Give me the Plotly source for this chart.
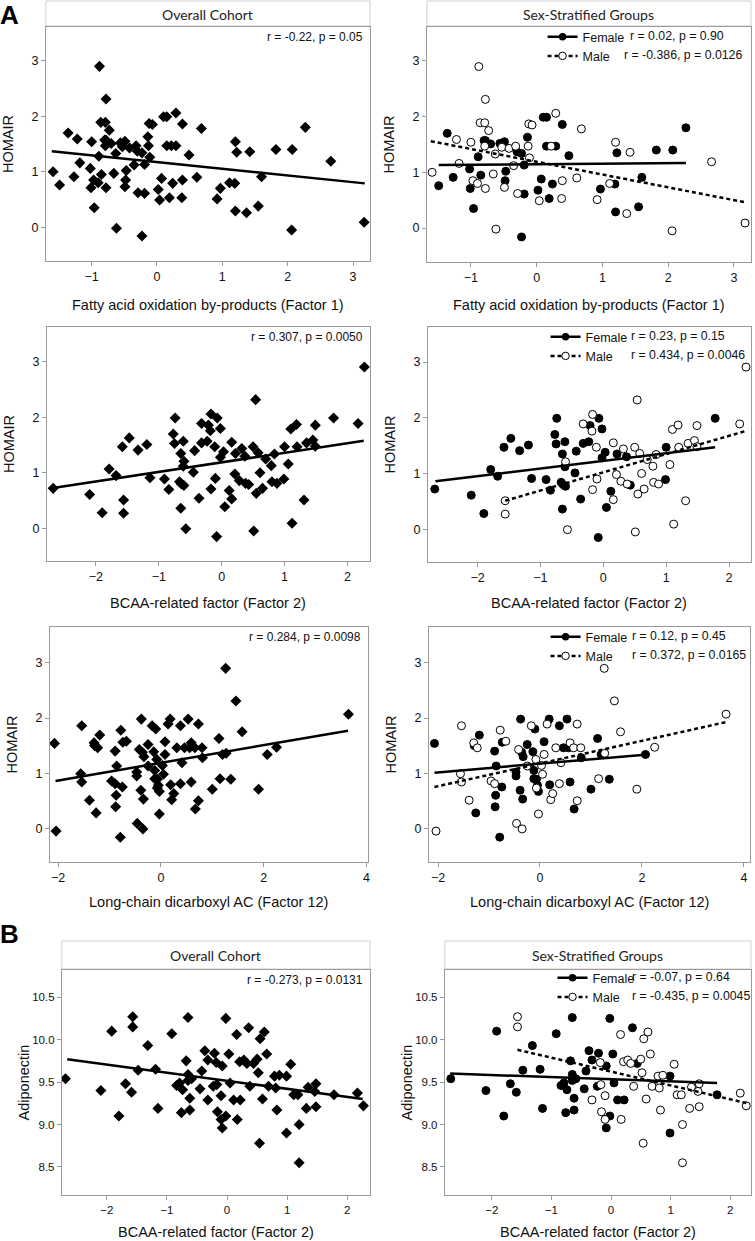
import plotly.graph_objects as go

W, H = 755, 1241

# ---------------- DATA ----------------
# Row 1: Fatty acid oxidation by-products (Factor 1) vs HOMAIR
r1_female_x = [-1.49,-1.36,-1.27,-1.02,-1.01,-0.96,-0.89,-0.85,-0.80,-0.78,-0.70,-0.56,-0.49,-0.47,-0.48,-0.30,-0.23,-0.19,-0.19,-0.23,-0.14,0.02,0.07,0.10,0.15,0.15,0.19,0.24,0.29,0.39,0.49,0.97,1.19,1.22,1.20,1.55,1.60,1.82,2.07,2.27]
r1_female_y = [0.76,1.70,0.91,1.06,0.71,0.35,1.28,0.95,1.57,1.57,1.51,1.52,1.55,1.02,0.85,1.37,1.34,1.13,0.61,-0.16,1.63,0.68,0.88,1.99,1.99,1.47,0.53,0.79,1.47,1.86,1.30,0.70,0.79,1.35,0.29,0.38,0.91,1.40,1.40,1.80]
r1_male_x = [-1.59,-1.22,-1.18,-1.00,-0.97,-0.90,-0.88,-0.86,-0.79,-0.78,-0.79,-0.78,-0.73,-0.63,-0.62,-0.66,-0.49,-0.53,-0.42,-0.35,-0.32,-0.29,-0.13,-0.12,-0.07,-0.11,0.04,0.22,0.39,0.38,0.61,0.68,0.29,0.92,1.11,1.20,1.37,1.42,2.06,2.66,3.17]
r1_male_y = [1.00,1.59,1.16,1.54,0.85,0.80,2.90,1.89,1.89,2.31,1.47,0.71,1.75,1.33,-0.02,0.97,0.73,1.45,1.43,1.12,1.47,0.62,1.47,1.87,1.85,1.26,0.49,1.47,0.85,0.53,0.90,1.78,2.06,0.51,0.80,1.54,0.26,1.36,-0.05,1.19,0.09]

# Row 2: BCAA-related factor (Factor 2) vs HOMAIR
r2_female_x = [-2.68,-2.10,-1.90,-1.79,-1.68,-1.58,-1.47,-1.33,-1.19,-1.14,-0.91,-0.84,-0.77,-0.75,-0.74,-0.67,-0.65,-0.65,-0.64,-0.61,-0.60,-0.61,-0.45,-0.43,-0.36,-0.32,-0.23,-0.21,-0.08,-0.07,-0.02,-0.02,0.03,0.05,0.12,0.22,0.37,0.43,1.00,0.99,1.78]
r2_female_y = [0.72,0.61,0.28,1.07,0.95,1.47,1.63,1.41,1.51,0.91,0.89,0.70,1.70,1.53,1.99,0.84,1.35,0.36,0.80,1.57,0.77,1.12,1.01,1.40,0.54,1.54,1.57,1.86,-0.15,1.99,1.80,1.28,1.38,0.39,0.68,1.35,1.30,0.79,1.47,0.89,1.99]
r2_male_x = [-1.56,-1.56,-0.60,-0.57,-0.32,-0.17,-0.18,-0.17,-0.11,-0.10,0.16,0.16,0.21,0.28,0.32,0.38,0.50,0.51,0.54,0.55,0.58,0.61,0.65,0.70,0.79,0.80,0.84,0.88,1.06,1.10,1.12,1.19,1.20,1.31,1.35,1.45,1.49,1.49,2.17,2.27]
r2_male_y = [0.51,0.27,1.21,-0.01,1.89,2.06,1.76,0.71,1.47,0.90,1.55,0.53,0.98,0.86,1.44,0.81,1.47,-0.05,2.32,0.63,1.36,1.00,0.72,1.25,1.13,0.84,1.34,0.81,1.16,1.79,0.09,1.87,1.47,0.51,1.54,1.59,1.86,1.48,1.89,2.91]

# Row 3: Long-chain dicarboxyl AC (Factor 12) vs HOMAIR
r3_female_x = [-2.07,-1.26,-1.29,-1.19,-0.89,-0.86,-0.87,-0.88,-0.75,-0.79,-0.74,-0.47,-0.47,-0.38,-0.39,-0.36,-0.33,-0.34,-0.25,-0.14,-0.10,-0.12,-0.12,-0.07,-0.05,-0.03,0.08,0.18,0.19,0.38,0.46,0.53,0.56,0.59,0.67,0.81,1.00,1.13,1.20,1.36,2.07]
r3_female_y = [1.54,0.28,1.50,1.69,1.40,1.13,0.60,0.39,0.75,-0.16,1.56,1.02,0.95,1.98,0.69,1.38,1.30,0.53,1.52,1.39,1.80,1.05,0.90,0.89,0.78,0.67,1.57,1.98,0.79,1.86,1.46,1.98,1.46,0.84,0.35,1.28,0.71,1.63,1.34,0.89,1.34]
r3_male_x = [-2.04,-1.54,-1.56,-1.54,-1.39,-1.30,-1.23,-0.96,-0.89,-0.78,-0.67,-0.46,-0.35,-0.42,-0.25,-0.17,-0.08,-0.07,-0.03,0.05,0.08,0.14,0.21,0.25,0.31,0.38,0.41,0.59,0.66,0.73,0.73,0.80,1.15,1.27,1.26,1.46,1.58,1.90,2.25,3.65,0.03]
r3_male_y = [-0.05,1.86,0.99,0.84,0.51,1.55,1.46,0.86,0.81,1.78,1.58,0.09,-0.01,1.43,1.13,1.86,1.25,0.73,0.26,0.98,1.34,1.89,0.52,0.63,1.46,0.81,1.19,1.55,1.46,0.50,1.89,1.46,0.90,1.36,2.90,2.31,1.75,0.71,1.47,2.07,1.14]

# Panel B: BCAA-related factor (Factor 2) vs Adiponectin
b_female_x = [-2.69,-2.10,-1.92,-1.80,-1.69,-1.59,-1.48,-1.32,-1.19,-1.15,-0.92,-0.84,-0.79,-0.76,-0.74,-0.68,-0.65,-0.65,-0.65,-0.59,-0.62,-0.62,-0.45,-0.42,-0.37,-0.32,-0.23,-0.21,-0.08,-0.08,-0.02,-0.02,0.03,0.05,0.11,0.22,0.36,0.44,0.99,0.99,1.78]
b_female_y = [9.54,9.40,10.10,9.10,9.48,9.38,9.64,9.93,9.65,9.19,10.07,9.46,9.49,9.14,9.41,9.75,10.26,9.59,9.52,9.54,9.31,9.17,9.42,9.63,9.87,9.76,9.45,9.84,9.69,8.96,10.25,9.10,9.83,9.49,9.29,9.29,10.14,9.72,9.57,8.90,9.35]
b_male_x = [-1.57,-1.57,-0.32,-0.18,-0.17,-0.16,-0.10,-0.10,0.16,0.17,0.21,0.28,0.33,0.38,0.50,0.52,0.54,0.55,0.59,0.62,0.66,0.69,0.79,0.81,0.83,0.87,1.06,1.11,1.18,1.20,1.20,1.32,1.35,1.48,1.48,1.46,2.17,2.27]
b_male_y = [10.27,10.15,9.29,9.73,9.47,9.15,9.34,9.06,10.06,9.06,9.74,9.76,9.72,9.45,9.77,9.61,8.78,10.01,9.30,10.09,9.83,9.45,9.57,9.43,9.17,9.58,9.71,9.35,9.35,8.55,9.00,9.19,9.44,9.21,9.48,9.39,9.37,9.22]

# Regression lines (end points)
fit_overall_x = [[-1.61, 3.18], [-2.71, 2.26], [-2.05, 3.64], [-2.66, 2.26]]
fit_overall_y = [[1.37, 0.79], [0.72, 1.58], [0.86, 1.77], [9.77, 9.30]]
fit_female_x = [[-1.49, 2.27], [-2.67, 1.78], [-2.07, 2.12], [-2.70, 1.78]]
fit_female_y = [[1.13, 1.17], [0.86, 1.47], [1.01, 1.34], [9.60, 9.49]]
fit_male_x = [[-1.61, 3.18], [-1.56, 2.29], [-2.07, 3.67], [-1.57, 2.29]]
fit_male_y = [[1.56, 0.46], [0.51, 1.77], [0.75, 1.93], [9.88, 9.25]]

overall_stats = ["r = -0.22, p = 0.05", "r = 0.307, p = 0.0050", "r = 0.284, p = 0.0098", "r = -0.273, p = 0.0131"]
female_stats = ["r = 0.02, p = 0.90", "r = 0.23, p = 0.15", "r = 0.12, p = 0.45", "r = -0.07, p = 0.64"]
male_stats = ["r = -0.386, p = 0.0126", "r = 0.434, p = 0.0046", "r = 0.372, p = 0.0165", "r = -0.435, p = 0.0045"]

x_titles = ["Fatty acid oxidation by-products (Factor 1)", "BCAA-related factor (Factor 2)",
            "Long-chain dicarboxyl AC (Factor 12)", "BCAA-related factor (Factor 2)"]
y_titles = ["HOMAIR", "HOMAIR", "HOMAIR", "Adiponectin"]
group_headers = ["Overall Cohort", "Sex-Stratified Groups"]
panel_letters = ["A", "B"]
sex_labels = ["Female", "Male"]

x_tickvals = [[-1, 0, 1, 2, 3], [-2, -1, 0, 1, 2], [-2, 0, 2, 4], [-2, -1, 0, 1, 2]]
y_tickvals = [[0, 1, 2, 3], [0, 1, 2, 3], [0, 1, 2, 3], [8.5, 9.0, 9.5, 10.0, 10.5]]

rows = [
    (r1_female_x, r1_female_y, r1_male_x, r1_male_y),
    (r2_female_x, r2_female_y, r2_male_x, r2_male_y),
    (r3_female_x, r3_female_y, r3_male_x, r3_male_y),
    (b_female_x, b_female_y, b_male_x, b_male_y),
]

# ---------------- LAYOUT GEOMETRY (pixels) ----------------
# (left, right, top, bottom) of each plot frame; [row][col]
frames = [
    [(46, 371, 27, 261), (428, 753, 27, 262)],
    [(47, 371, 327, 561), (429, 753, 327, 562)],
    [(50, 369, 627, 862), (430, 752, 627, 862)],
    [(62, 371, 970, 1195), (446, 753, 970, 1195)],
]
x_ranges = [
    [(-1.70, 3.26), (-1.67, 3.26)],
    [(-2.78, 2.36), (-2.79, 2.35)],
    [(-2.16, 4.03), (-2.18, 4.12)],
    [(-2.75, 2.38), (-2.79, 2.35)],
]
y_ranges = [(-0.61, 3.61), (-0.59, 3.63), (-0.61, 3.65), (8.17, 10.82)]
x_title_y = [305, 603, 902, 1232]
legend_text_x = [583, 586, 586, 593]          # where legend labels start
stats_x = [(630, 624), (631, 631), (632, 632), (632, 632)]  # female / male r-text start
legend_row_dy = [10, 10, 10, 8]               # first legend row below frame top


def px(v):
    return v / W


def py(v):
    return 1 - v / H


FONT = "Liberation Sans, Arial, sans-serif"
GRAY = "#9a9a9a"

fig = go.Figure()
layout = dict(
    width=W, height=H, margin=dict(l=0, r=0, t=0, b=0),
    paper_bgcolor="white", plot_bgcolor="white", showlegend=True,
    font=dict(family=FONT, color="#111"),
)
annotations = []
shapes = []

ax_i = 0
for r in range(4):
    fx, fy, mx, my = rows[r]
    for c in range(2):
        ax_i += 1
        xa = "x" if ax_i == 1 else f"x{ax_i}"
        ya = "y" if ax_i == 1 else f"y{ax_i}"
        xkey = "xaxis" if ax_i == 1 else f"xaxis{ax_i}"
        ykey = "yaxis" if ax_i == 1 else f"yaxis{ax_i}"
        L, R, T, B = frames[r][c]
        tickfont = dict(size=12.5 if r < 3 else 11.5, family=FONT, color="#111")
        layout[xkey] = dict(
            domain=[px(L), px(R)], anchor=ya, range=list(x_ranges[r][c]),
            tickvals=x_tickvals[r], ticks="outside", ticklen=4, tickcolor=GRAY,
            showline=True, mirror=True, linecolor=GRAY, linewidth=1,
            showgrid=False, zeroline=False, tickfont=tickfont, fixedrange=True,
        )
        layout[ykey] = dict(
            domain=[py(B), py(T)], anchor=xa, range=list(y_ranges[r]),
            tickvals=y_tickvals[r], ticks="outside", ticklen=4, tickcolor=GRAY,
            showline=True, mirror=True, linecolor=GRAY, linewidth=1,
            showgrid=False, zeroline=False, tickfont=tickfont, fixedrange=True,
            tickformat=".1f" if r == 3 else "d",
        )

        if c == 0:
            fig.add_trace(go.Scatter(
                x=fx + mx, y=fy + my, xaxis=xa, yaxis=ya, mode="markers",
                marker=dict(symbol="diamond", size=8.5, color="black"),
                showlegend=False, hoverinfo="skip"))
            fig.add_trace(go.Scatter(
                x=fit_overall_x[r], y=fit_overall_y[r], xaxis=xa, yaxis=ya,
                mode="lines", line=dict(color="black", width=2.5),
                showlegend=False, hoverinfo="skip"))
            annotations.append(dict(
                x=px(R - 5), y=py(T + 10), xref="paper", yref="paper",
                xanchor="right", yanchor="middle", text=overall_stats[r],
                showarrow=False, font=dict(size=12, family=FONT, color="#111")))
        else:
            lg = "legend" if r == 0 else f"legend{r + 1}"
            fig.add_trace(go.Scatter(
                x=fx, y=fy, xaxis=xa, yaxis=ya, mode="markers",
                marker=dict(symbol="circle", size=8, color="black",
                            line=dict(color="black", width=1)),
                showlegend=False, hoverinfo="skip"))
            fig.add_trace(go.Scatter(
                x=mx, y=my, xaxis=xa, yaxis=ya, mode="markers",
                marker=dict(symbol="circle", size=8, color="white",
                            line=dict(color="black", width=1)),
                showlegend=False, hoverinfo="skip"))
            fig.add_trace(go.Scatter(
                x=fit_female_x[r], y=fit_female_y[r], xaxis=xa, yaxis=ya,
                mode="lines", line=dict(color="black", width=2.5),
                showlegend=False, hoverinfo="skip"))
            fig.add_trace(go.Scatter(
                x=fit_male_x[r], y=fit_male_y[r], xaxis=xa, yaxis=ya,
                mode="lines", line=dict(color="black", width=2.5, dash="4px,3px"),
                showlegend=False, hoverinfo="skip"))
            # legend keys
            fig.add_trace(go.Scatter(
                x=[None], y=[None], xaxis=xa, yaxis=ya, mode="lines+markers",
                name=sex_labels[0], legend=lg,
                line=dict(color="black", width=2.5),
                marker=dict(symbol="circle", size=7.5, color="black")))
            fig.add_trace(go.Scatter(
                x=[None], y=[None], xaxis=xa, yaxis=ya, mode="lines+markers",
                name=sex_labels[1], legend=lg,
                line=dict(color="black", width=2.5, dash="4px,3px"),
                marker=dict(symbol="circle", size=7.5, color="white",
                            line=dict(color="black", width=1))))
            first = T + legend_row_dy[r] - 1
            layout[lg] = dict(
                x=px(legend_text_x[r] - 39), y=py(first - 14), xanchor="left", yanchor="top",
                bgcolor="rgba(0,0,0,0)", borderwidth=0, itemwidth=30,
                tracegroupgap=0, font=dict(size=12.5, family=FONT, color="#111"),
                itemclick=False, itemdoubleclick=False,
            )
            for k, txt in enumerate([female_stats[r], male_stats[r]]):
                annotations.append(dict(
                    x=px(stats_x[r][k]), y=py(first + 19 * k), xref="paper", yref="paper",
                    xanchor="left", yanchor="middle", text=txt, showarrow=False,
                    font=dict(size=12.3, family=FONT, color="#111")))

        # axis titles
        annotations.append(dict(
            x=px((L + R) / 2), y=py(x_title_y[r]), xref="paper", yref="paper",
            xanchor="center", yanchor="middle", text=x_titles[r], showarrow=False,
            font=dict(size=14.5, family=FONT, color="#111")))
        annotations.append(dict(
            x=px(L - 38), y=py((T + B) / 2), xref="paper", yref="paper",
            xanchor="center", yanchor="middle", text=y_titles[r], textangle=-90,
            showarrow=False, font=dict(size=14.5, family=FONT, color="#111")))

        # group header boxes (top of panel A and panel B)
        if r in (0, 3):
            ht = 1 if r == 0 else 941
            shapes.append(dict(type="rect", xref="paper", yref="paper",
                               x0=px(L), x1=px(R), y0=py(T - 1), y1=py(ht),
                               line=dict(color="#cfcfcf", width=1), fillcolor="white",
                               layer="below"))
            annotations.append(dict(
                x=px((L + R) / 2), y=py((ht + T) / 2), xref="paper", yref="paper",
                xanchor="center", yanchor="middle", text=group_headers[c],
                showarrow=False, font=dict(size=14, family="Lato, Open Sans, sans-serif", color="#222")))

# panel letters
annotations.append(dict(x=px(10), y=py(15), xref="paper", yref="paper", xanchor="center",
                        yanchor="middle", text="<b>" + panel_letters[0] + "</b>", showarrow=False,
                        font=dict(size=26, family=FONT, color="black")))
annotations.append(dict(x=px(10), y=py(934), xref="paper", yref="paper", xanchor="center",
                        yanchor="middle", text="<b>" + panel_letters[1] + "</b>", showarrow=False,
                        font=dict(size=26, family=FONT, color="black")))

layout["annotations"] = annotations
layout["shapes"] = shapes
fig.update_layout(**layout)
fig.write_html(
    "out.html",
    config={"staticPlot": True},
    post_script="document.body.style.margin='0';document.body.style.overflow='hidden';",
)
